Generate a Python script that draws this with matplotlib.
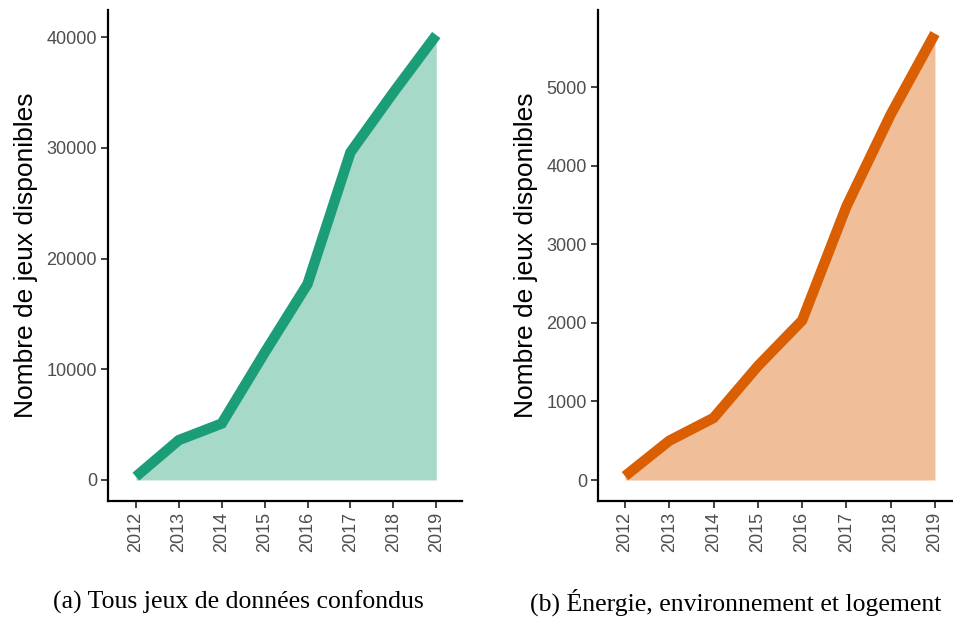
import matplotlib
matplotlib.use("Agg")
import matplotlib.pyplot as plt

years = [2012, 2013, 2014, 2015, 2016, 2017, 2018, 2019]
tous_jeux = [300, 3600, 5100, 11500, 17700, 29600, 35000, 40200]
energie = [50, 500, 790, 1450, 2030, 3480, 4650, 5680]

left_ticks = [0, 10000, 20000, 30000, 40000]
right_ticks = [0, 1000, 2000, 3000, 4000, 5000]

captions = ["(a) Tous jeux de données confondus",
            "(b) Énergie, environnement et logement"]

W, H = 954, 617
fig = plt.figure(figsize=(W / 100, H / 100), dpi=100)


def panel(rect, values, ticks, line_color, fill_color, ylim, xlim):
    ax = fig.add_axes([rect[0] / W, 1 - rect[3] / H,
                       (rect[2] - rect[0]) / W, (rect[3] - rect[1]) / H])
    ax.fill_between(years, 0, values, color=fill_color, linewidth=0)
    ax.plot(years, values, color=line_color, linewidth=7.5,
            solid_capstyle="butt", solid_joinstyle="miter")
    ax.set_xlim(*xlim)
    ax.set_ylim(*ylim)
    ax.set_xticks(years)
    ax.set_xticklabels([str(y) for y in years], rotation=90)
    ax.set_yticks(ticks)
    for s in ["top", "right"]:
        ax.spines[s].set_visible(False)
    for s in ["left", "bottom"]:
        ax.spines[s].set_linewidth(1.6)
        ax.spines[s].set_color("black")
    ax.tick_params(length=5, width=1.3, color="#333333", labelcolor="#4D4D4D",
                   labelsize=13, pad=3)
    for lab in ax.get_xticklabels() + ax.get_yticklabels():
        lab.set_fontfamily("Liberation Sans")
    ax.set_ylabel("Nombre de jeux disponibles", fontsize=19,
                  fontfamily="Liberation Sans", labelpad=6)
    return ax


panel((108, 10, 462, 501), tous_jeux, left_ticks, "#1B9E77", "#A6D9C8",
      (-1900, 42460), (2011.35, 2019.6))
panel((598, 10, 954, 501), energie, right_ticks, "#D95F02", "#F0BF99",
      (-267, 5980), (2011.39, 2019.43))

fig.text(238 / W, 1 - 602 / H, captions[0], ha="center", va="center",
         fontsize=18.5, fontfamily="Liberation Serif")
fig.text(736 / W, 1 - 602 / H, captions[1], ha="center", va="center",
         fontsize=18.5, fontfamily="Liberation Serif")

fig.savefig("out.png", dpi=100)
